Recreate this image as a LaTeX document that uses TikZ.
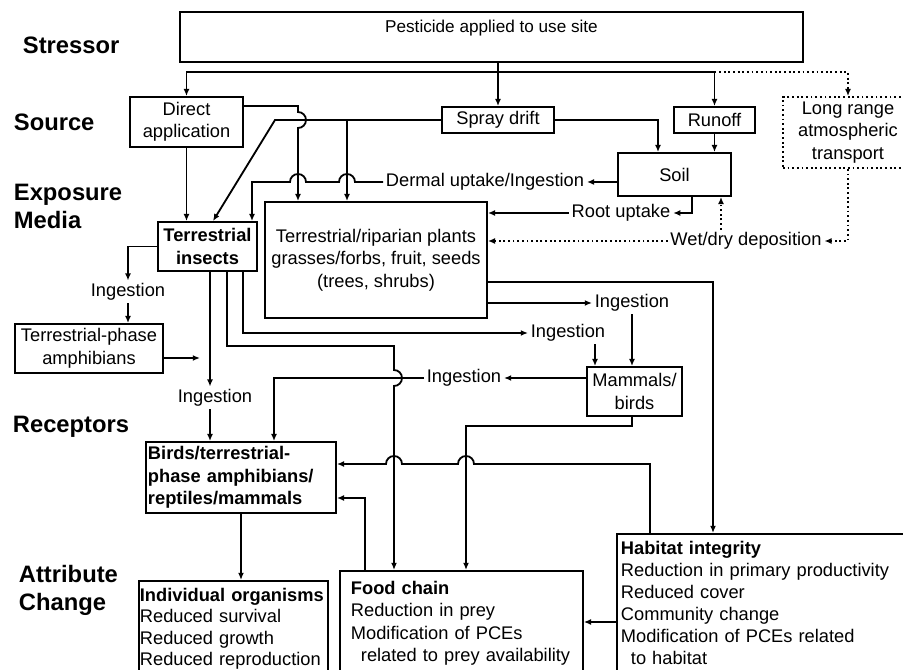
\documentclass[tikz,border=0pt]{standalone}
\usepackage{fontspec}
\setmainfont{Liberation Sans}
\usetikzlibrary{arrows.meta}
\newcommand{\bodyfont}{\fontsize{13}{16}\selectfont}
\newcommand{\stagefont}{\fontsize{16.9}{19.9}\selectfont\bfseries}
\tikzset{
block/.style = {draw, align=center, inner sep=0.3mm, font=\bodyfont},
txtbox/.style = {draw, align=left, anchor=north west, text depth=40mm, font=\bodyfont},
lbl/.style = {inner sep=0.5mm, font=\bodyfont},
stage/.style = {align=left, anchor=west, inner sep=0pt, font=\stagefont},
input/.style = {coordinate}
}
\begin{document}
\begin{tikzpicture}[x=0.25mm, y=-0.25mm, line width=1.3pt,
    >={Latex[length=1.8mm,width=1.5mm]}]
    \clip (0,0) rectangle (903,670);

    % stage names
    \node [stage] (stressor) at (22,45) {Stressor};
    \node [stage] (source) at (13,122) {Source};
    \node [stage] (media) at (13,206) {Exposure\\Media};
    \node [stage] (receptors) at (12,427) {Receptors};
    \node [stage] (change) at (18,590) {Attribute\\Change};

    \node [block, text height=3.5mm, text depth=5.5mm, inner ysep=1.75mm,
    minimum width=155.75mm, font=\fontsize{12.2}{14}\selectfont] (pest) at (491.5,37)
    {Pesticide applied to use site};

    \node [block, below of=pest, node distance=20.75mm, xshift=1.625mm,
    minimum width=28mm, minimum height=6.5mm] (spray) {Spray drift};
    \node [block, left of=spray, node distance=77.875mm, yshift=-0.5mm,
    minimum width=28.25mm, minimum height=12.5mm] (direct) {Direct\\application};
    \node [block, right of=spray, node distance=54.125mm,
    minimum width=20.25mm, minimum height=6.5mm] (runoff) {Runoff};
    \node [block, dotted, right of=runoff, node distance=33.375mm, yshift=-3.125mm,
    minimum width=32.5mm, minimum height=17.75mm] (longrange)
    {Long range\\atmospheric\\transport};

    \node [block, below of=runoff, node distance=13.625mm, xshift=-10mm,
    minimum width=28.25mm, minimum height=10.75mm] (soil) {Soil};
    \node [block, below of=spray, node distance=35mm, xshift=-30.5mm,
    minimum width=55.5mm, minimum height=29mm] (plants)
    {Terrestrial/riparian plants\\grasses/forbs, fruit, seeds\\(trees, shrubs)};
    \node [block, left of=plants, node distance=42.125mm, yshift=3.375mm,
    minimum width=24.75mm, minimum height=12.25mm, font=\bodyfont\bfseries] (insects)
    {Terrestrial\\insects};

    \node [block, below of=insects, node distance=25.5mm, xshift=-29.625mm,
    minimum width=37mm, minimum height=12.25mm] (amphib) {Terrestrial-phase\\amphibians};
    \node [block, below of=plants, node distance=32.875mm, xshift=64.625mm,
    minimum width=23.75mm, minimum height=12.25mm] (mammals) {Mammals/\\birds};
    \node [block, below of=insects, node distance=57.75mm, xshift=8.375mm,
    minimum width=47.5mm, minimum height=17.75mm, align=left, text width=46.5mm,
    font=\bodyfont\bfseries] (birds) {Birds/terrestrial-\\phase amphibians/\\reptiles/mammals};

    \node [txtbox, inner xsep=0.25mm, inner ysep=1.75mm, text width=46.75mm,
    font=\fontsize{13}{15.3}\selectfont] (indiv)
    at (138,580) {\textbf{Individual organisms}\\Reduced survival\\Reduced growth\\
    Reduced reproduction};
    \node [txtbox, inner xsep=2.75mm, inner ysep=2.5mm, text width=55.25mm] (food)
    at (339,570) {\textbf{Food chain}\\Reduction in prey\\Modification of PCEs\\
    \hspace*{2.5mm}related to prey availability};
    \node [txtbox, inner xsep=1mm, inner ysep=1.75mm, text width=73mm,
    font=\fontsize{13}{15.7}\selectfont] (habitat)
    at (616,533) {\textbf{Habitat integrity}\\Reduction in primary productivity\\
    Reduced cover\\Community change\\Modification of PCEs related\\
    \hspace*{2.5mm}to habitat};

    \node [lbl] (dermal) at (485,182) {Dermal uptake/Ingestion};
    \node [lbl] (rootup) at (621,213) {Root uptake};
    \node [lbl] (wetdry) at (746,241) {Wet/dry deposition};
    \node [lbl] (ing1) at (632,303) {Ingestion};
    \node [lbl] (ing2) at (568,333) {Ingestion};
    \node [lbl] (ing3) at (464,378) {Ingestion};
    \node [lbl] (ing4) at (128,292) {Ingestion};
    \node [lbl] (ing5) at (215,398) {Ingestion};

    \node [input] (bus) at (498,72) {};
    \node [input] (dap) at (298,120) {};
    \node [input] (drl) at (275,120) {};
    \node [input] (drp) at (347,120) {};
    \node [input] (insbend) at (394,346) {};
    \node [input] (hab1) at (394,464) {};
    \node [input] (hab2) at (466,464) {};
    \coordinate (amphend) at (200,358);

    \draw [->] (pest.south -| spray.north) -- (spray.north);
    \draw [->] (bus) -| (direct.north);
    \draw [->] (bus) -| (runoff.north);
    \draw [->, dotted] (runoff.north |- bus) -| (longrange.north);

    \draw [->] (direct.south) -- (direct.south |- insects.north);
    \draw [->] ([yshift=4mm]direct.east) -| ([yshift=2mm]dap)
        arc [start angle=90, end angle=-90, radius=2mm] -- (dap |- plants.north);
    \draw [->] (spray.west) -- (drl) -- ([xshift=1.375mm]insects.north);
    \draw [->] (drp) -- (drp |- plants.north);
    \draw [->] (spray.east) -| ([xshift=-4.125mm]soil.north);
    \draw [->] (runoff.south) -- (runoff.south |- soil.north);

    \draw [->] ([yshift=-1.875mm]soil.west) -- (dermal.east);
    \draw [->] (dermal.west) -- ([xshift=2mm]drp |- dermal.west)
        arc [start angle=0, end angle=180, radius=2mm]
        -- ([xshift=2mm]dap |- dermal.west)
        arc [start angle=0, end angle=180, radius=2mm]
        -| ([xshift=11.125mm]insects.north);
    \draw [->] ([xshift=4.375mm]soil.south) |- (rootup.east);
    \draw [->] (rootup.west) -- (plants.east |- rootup.west);
    \draw [->, dotted] (longrange.south) |- (wetdry.east);
    \draw [->, dotted] (wetdry.west) -- (plants.east |- wetdry.west);
    \draw [->, dotted] ([xshift=-6.25mm]wetdry.north)
        -- ([xshift=-6.25mm]wetdry.north |- soil.south);

    \draw [->] ([yshift=-5.5mm]plants.east) -| ([xshift=24.25mm]habitat.north west);
    \draw [->] ([yshift=-10.75mm]plants.east) -- (ing1.west);
    \draw [->] (ing1.south) -- (ing1.south |- mammals.north);
    \draw [->] ([xshift=8.875mm]insects.south) |- (ing2.west);
    \draw [->] ([xshift=6.75mm]ing2.south) -- ([xshift=6.75mm]ing2.south |- mammals.north);
    \draw [->] ([yshift=3.375mm]mammals.west) -- (ing3.east);
    \draw [->] (ing3.west) -| ([xshift=8.25mm]birds.north);
    \draw [->] ([xshift=4.875mm]insects.south) |- (insbend)
        -- ([yshift=2mm]insbend |- ing3.west)
        arc [start angle=90, end angle=-90, radius=2mm]
        -- ([xshift=13.75mm]food.north west);

    \draw [->] (insects.west) -| (ing4.north);
    \draw [->] (ing4.south) -- (ing4.south |- amphib.north);
    \draw [->] ([yshift=-2.375mm]amphib.east) -- (amphend);
    \draw [->] ([xshift=0.625mm]insects.south) -- ([xshift=0.625mm]insects.south |- ing5.north);
    \draw [->] ([xshift=-1.25mm]ing5.south) -- ([xshift=-1.25mm]ing5.south |- birds.north);

    \draw [->] ([xshift=-0.625mm]mammals.south) -- ++(0,9) -| ([xshift=31.75mm]food.north west);
    \draw [->] ([xshift=8.5mm]habitat.north west) |- ([xshift=2mm]hab2)
        arc [start angle=0, end angle=180, radius=2mm]
        -- ([xshift=2mm]hab1)
        arc [start angle=0, end angle=180, radius=2mm]
        -- ([yshift=3.375mm]birds.east);
    \draw [->] ([xshift=6.5mm]food.north west) |- ([yshift=-5.125mm]birds.east);
    \draw [->] (birds.south) -- (birds.south |- indiv.north);
    \draw [->] ([yshift=-22.25mm]habitat.north west) -- ([yshift=-13mm]food.north east);

\end{tikzpicture}
\end{document}
